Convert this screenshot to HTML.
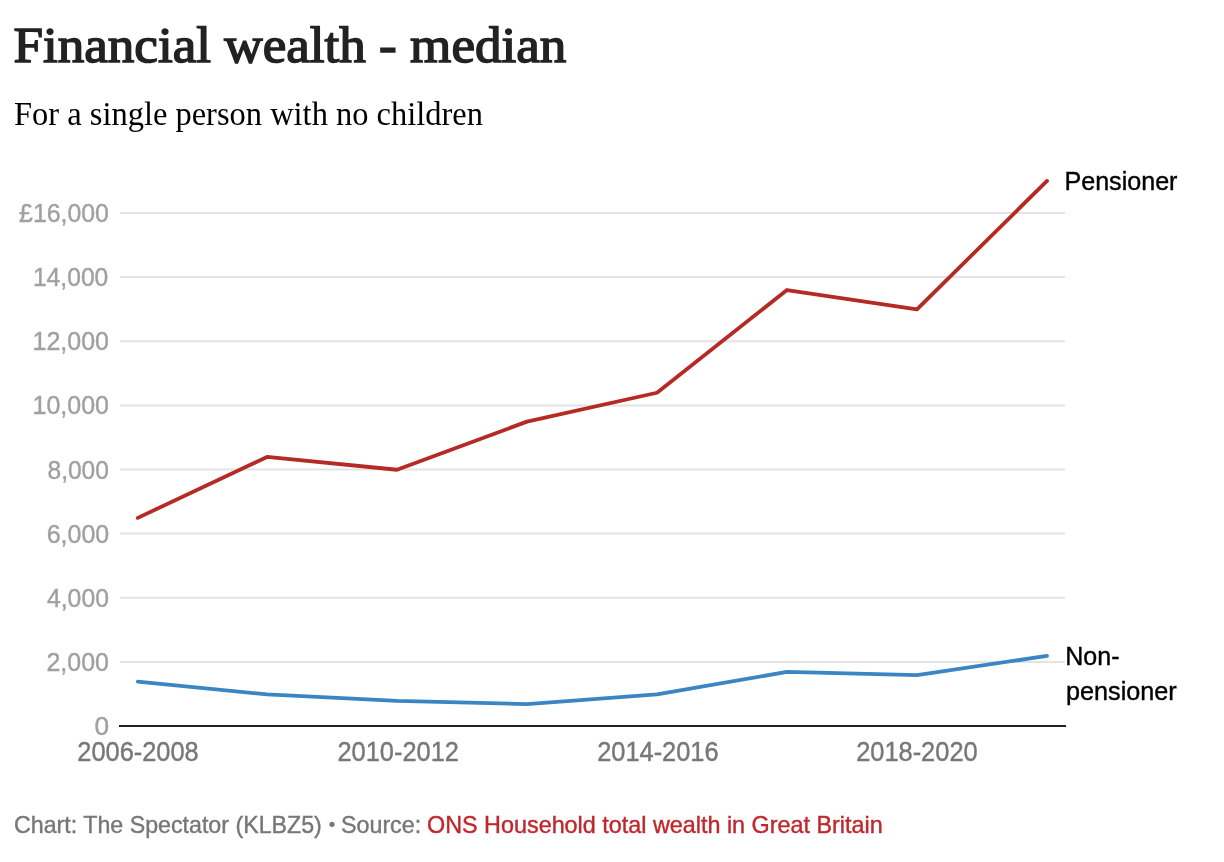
<!DOCTYPE html>
<html><head><meta charset="utf-8">
<style>
html,body{margin:0;padding:0;background:#fff;width:1224px;height:862px;overflow:hidden}
svg{position:absolute;left:0;top:0;display:block;will-change:transform}
text{font-family:"Liberation Sans",sans-serif}
.serif{font-family:"Liberation Serif",serif}
</style></head><body>
<svg width="1224" height="862" viewBox="0 0 1224 862">
<rect width="1224" height="862" fill="#fff"/>
<g stroke="#e3e3e3" stroke-width="2">
<line x1="120" x2="1065" y1="661.88" y2="661.88"/>
<line x1="120" x2="1065" y1="597.75" y2="597.75"/>
<line x1="120" x2="1065" y1="533.62" y2="533.62"/>
<line x1="120" x2="1065" y1="469.50" y2="469.50"/>
<line x1="120" x2="1065" y1="405.38" y2="405.38"/>
<line x1="120" x2="1065" y1="341.25" y2="341.25"/>
<line x1="120" x2="1065" y1="277.12" y2="277.12"/>
<line x1="120" x2="1065" y1="213.00" y2="213.00"/>
</g>
<line x1="119" x2="1066" y1="726" y2="726" stroke="#222" stroke-width="2"/>
<polyline fill="none" stroke="#b52a24" stroke-width="3.8" stroke-linecap="round" stroke-linejoin="round" points="137.8,517.89 267.0,456.91 397.0,469.75 527.0,421.61 657.0,392.73 787.0,290.02 917.0,309.28 1047.0,180.91"/>
<polyline fill="none" stroke="#3a85c4" stroke-width="3.8" stroke-linecap="round" stroke-linejoin="round" points="137.8,681.57 267.0,694.41 397.0,700.83 527.0,704.03 657.0,694.41 787.0,671.94 917.0,675.15 1047.0,655.89"/>
<text x="13.4" y="61.8" font-size="51" fill="#222" class="serif" stroke="#222" stroke-width="1.5" textLength="553.01" lengthAdjust="spacingAndGlyphs">Financial wealth - median</text>
<text x="13.99" y="125" font-size="34" fill="#000" class="serif" textLength="469.01" lengthAdjust="spacingAndGlyphs">For a single person with no children</text>
<text x="108.96" y="222" font-size="26" fill="#a0a0a0" text-anchor="end" stroke="#a0a0a0" stroke-width="0.4" textLength="89.91" lengthAdjust="spacingAndGlyphs">£16,000</text>
<text x="108.34" y="286.1" font-size="26" fill="#a0a0a0" text-anchor="end" stroke="#a0a0a0" stroke-width="0.4" textLength="75.42" lengthAdjust="spacingAndGlyphs">14,000</text>
<text x="108.96" y="350.25" font-size="26" fill="#a0a0a0" text-anchor="end" stroke="#a0a0a0" stroke-width="0.4" textLength="76.43" lengthAdjust="spacingAndGlyphs">12,000</text>
<text x="108.98" y="414.4" font-size="26" fill="#a0a0a0" text-anchor="end" stroke="#a0a0a0" stroke-width="0.4" textLength="76.45" lengthAdjust="spacingAndGlyphs">10,000</text>
<text x="108.94" y="478.5" font-size="26" fill="#a0a0a0" text-anchor="end" stroke="#a0a0a0" stroke-width="0.4" textLength="61.46" lengthAdjust="spacingAndGlyphs">8,000</text>
<text x="109.2" y="542.6" font-size="26" fill="#a0a0a0" text-anchor="end" stroke="#a0a0a0" stroke-width="0.4" textLength="62.52" lengthAdjust="spacingAndGlyphs">6,000</text>
<text x="108.95" y="606.75" font-size="26" fill="#a0a0a0" text-anchor="end" stroke="#a0a0a0" stroke-width="0.4" textLength="61.99" lengthAdjust="spacingAndGlyphs">4,000</text>
<text x="108.95" y="670.9" font-size="26" fill="#a0a0a0" text-anchor="end" stroke="#a0a0a0" stroke-width="0.4" textLength="62.5" lengthAdjust="spacingAndGlyphs">2,000</text>
<text x="109.21" y="735" font-size="26" fill="#a0a0a0" text-anchor="end" stroke="#a0a0a0" stroke-width="0.4" textLength="14.59" lengthAdjust="spacingAndGlyphs">0</text>
<text x="138.0" y="761" font-size="27" fill="#777" text-anchor="middle" stroke="#777" stroke-width="0.4" textLength="121.45" lengthAdjust="spacingAndGlyphs">2006-2008</text>
<text x="398.2" y="761" font-size="27" fill="#777" text-anchor="middle" stroke="#777" stroke-width="0.4" textLength="121.45" lengthAdjust="spacingAndGlyphs">2010-2012</text>
<text x="657.9" y="761" font-size="27" fill="#777" text-anchor="middle" stroke="#777" stroke-width="0.4" textLength="121.45" lengthAdjust="spacingAndGlyphs">2014-2016</text>
<text x="916.9" y="761" font-size="27" fill="#777" text-anchor="middle" stroke="#777" stroke-width="0.4" textLength="121.51" lengthAdjust="spacingAndGlyphs">2018-2020</text>
<text x="1064.44" y="190.3" font-size="26" fill="#000" stroke="#000" stroke-width="0.4" textLength="113.02" lengthAdjust="spacingAndGlyphs">Pensioner</text>
<text x="1065.29" y="665" font-size="26" fill="#000" stroke="#000" stroke-width="0.4" textLength="54.27" lengthAdjust="spacingAndGlyphs">Non-</text>
<text x="1066.04" y="699.5" font-size="26" fill="#000" stroke="#000" stroke-width="0.4" textLength="110.65" lengthAdjust="spacingAndGlyphs">pensioner</text>
<text x="14.03" y="833" font-size="24" fill="#777" stroke="#777" stroke-width="0.4" textLength="307.81" lengthAdjust="spacingAndGlyphs">Chart: The Spectator (KLBZ5)</text>
<text x="341.0" y="833" font-size="24" fill="#777" stroke="#777" stroke-width="0.4" textLength="80.15" lengthAdjust="spacingAndGlyphs">Source:</text>
<text x="427.03" y="833" font-size="24" fill="#c0272d" stroke="#c0272d" stroke-width="0.4" textLength="455.68" lengthAdjust="spacingAndGlyphs">ONS Household total wealth in Great Britain</text>
<circle cx="332" cy="824.3" r="2.6" fill="#777"/>
</svg>
</body></html>
